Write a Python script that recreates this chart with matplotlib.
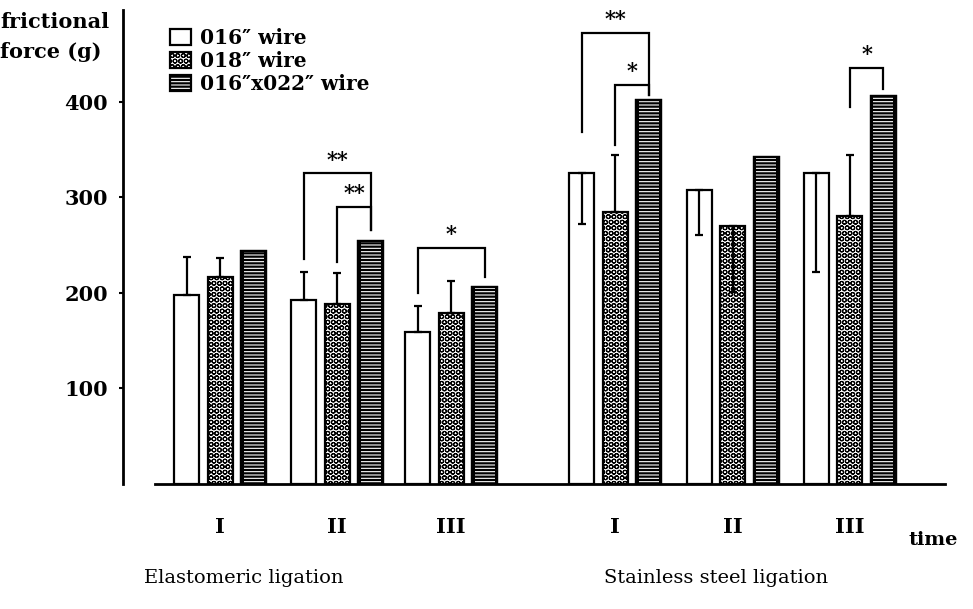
import matplotlib
matplotlib.use('Agg')
import matplotlib.pyplot as plt
from matplotlib.patches import Patch
from matplotlib.legend_handler import HandlerTuple
import numpy as np

plt.rcParams['font.family'] = ['DejaVu Serif', 'DejaVu Sans']
plt.rcParams['hatch.linewidth'] = 0.8

# data
times = ['I', 'II', 'III', 'I', 'II', 'III']
ligations = ['Elastomeric ligation', 'Stainless steel ligation']
wires = ['016\u2033 wire', '018\u2033 wire', '016\u2033x022\u2033 wire']

white_mean = [198, 192, 159, 325, 308, 325]
white_sd = [39, 30, 27, 53, 47, 103]
white_dir = ['up', 'up', 'up', 'down', 'down', 'down']

dotted_mean = [217, 188, 179, 285, 270, 280]
dotted_sd = [19, 33, 33, 59, 69, 64]
dotted_dir = ['up', 'up', 'up', 'up', 'down', 'up']

striped_mean = [244, 254, 206, 402, 342, 406]

# significance brackets: group, left bar, right bar, left foot, right foot, top, label
br_group = [1, 1, 2, 3, 3, 5]
br_left = [0, 1, 0, 0, 1, 1]
br_right = [2, 2, 2, 2, 2, 2]
br_lfoot = [235, 232, 200, 368, 355, 394]
br_rfoot = [266, 266, 217, 407, 407, 413]
br_top = [325, 290, 247, 472, 418, 435]
br_label = ['**', '**', '*', '**', '*', '*']

group_x = np.array([0, 3.5, 6.9, 11.8, 15.3, 18.8])
w = 0.75

fig = plt.figure(figsize=(9.73, 6.09), dpi=100)
ax = fig.add_axes([0.1264, 0.2053, 0.8448, 0.7783])


def yerr(sd, d):
    lo = [s if k == 'down' else 0 for s, k in zip(sd, d)]
    hi = [s if k == 'up' else 0 for s, k in zip(sd, d)]
    return [lo, hi]


xw = group_x - 1
xd = group_x
xs = group_x + 1

ax.bar(xw, white_mean, w, facecolor='white', edgecolor='black', lw=1.6, zorder=2)
ax.bar(xd, dotted_mean, w, facecolor='white', edgecolor='black', lw=1.6,
       hatch='OOO', zorder=2)
ax.bar(xs, striped_mean, w, facecolor='black', edgecolor='black', lw=1.6, zorder=2)
ax.bar(xs, striped_mean, w * 0.8, facecolor='none', edgecolor='white', lw=0,
       hatch='-----', zorder=3)
ax.bar(xs, striped_mean, w, facecolor='none', edgecolor='black', lw=1.6, zorder=4)

ax.errorbar(xw, white_mean, yerr=yerr(white_sd, white_dir), fmt='none',
            ecolor='black', elinewidth=1.6, capsize=3, capthick=1.6, zorder=5)
ax.errorbar(xd, dotted_mean, yerr=yerr(dotted_sd, dotted_dir), fmt='none',
            ecolor='black', elinewidth=1.6, capsize=3, capthick=1.6, zorder=5)

for g, l, r, lf, rf, t, lab in zip(br_group, br_left, br_right, br_lfoot,
                                   br_rfoot, br_top, br_label):
    x0 = group_x[g] + l - 1
    x1 = group_x[g] + r - 1
    ax.plot([x0, x0, x1, x1], [lf, t, t, rf], color='black', lw=1.6,
            solid_joinstyle='miter', zorder=5)
    ax.text((x0 + x1) / 2, t + 4, lab, ha='center', va='bottom',
            fontsize=15, fontweight='bold')

ax.set_xlim(-2.9, 21.64)
ax.set_ylim(0, 496)
for s in ['top', 'right']:
    ax.spines[s].set_visible(False)
ax.spines['left'].set_linewidth(2)
ax.spines['bottom'].set_linewidth(2)
ax.spines['bottom'].set_bounds(-1.94, 21.64)

ax.set_yticks([100, 200, 300, 400])
ax.set_yticklabels(['100', '200', '300', '400'], fontsize=15, fontweight='bold')
ax.tick_params(axis='y', length=3, width=1.5, pad=8)
ax.set_xticks(group_x)
ax.set_xticklabels(times, fontsize=15, fontweight='bold')
ax.tick_params(axis='x', length=0, pad=24)

fig.text(0, 1 - 22 / 609, 'frictional', ha='left', va='center',
         fontsize=15, fontweight='bold')
fig.text(0, 1 - 52 / 609, 'force (g)', ha='left', va='center',
         fontsize=15, fontweight='bold')
fig.text(244 / 973, 1 - 578 / 609, ligations[0], ha='center', va='center',
         fontsize=14)
fig.text(716 / 973, 1 - 578 / 609, ligations[1], ha='center', va='center',
         fontsize=14)
fig.text(933 / 973, 1 - 540 / 609, 'time', ha='center', va='center',
         fontsize=14, fontweight='bold')

h_white = Patch(facecolor='white', edgecolor='black', lw=1.6)
h_dot = Patch(facecolor='white', edgecolor='black', lw=1.6, hatch='OOO')
h_str = (Patch(facecolor='black', edgecolor='white', lw=0, hatch='-----'),
         Patch(facecolor='none', edgecolor='black', lw=1.6))
leg = ax.legend([h_white, h_dot, h_str], wires, loc='upper left',
                bbox_to_anchor=(170 / 973, 1 - 28 / 609),
                bbox_transform=fig.transFigure, frameon=False,
                handlelength=1.05, handleheight=0.85, handletextpad=0.45,
                labelspacing=0.14, borderpad=0, borderaxespad=0,
                prop={'size': 14.5, 'weight': 'bold'},
                handler_map={tuple: HandlerTuple(ndivide=1, pad=0)})

fig.savefig('out.png', dpi=100)
